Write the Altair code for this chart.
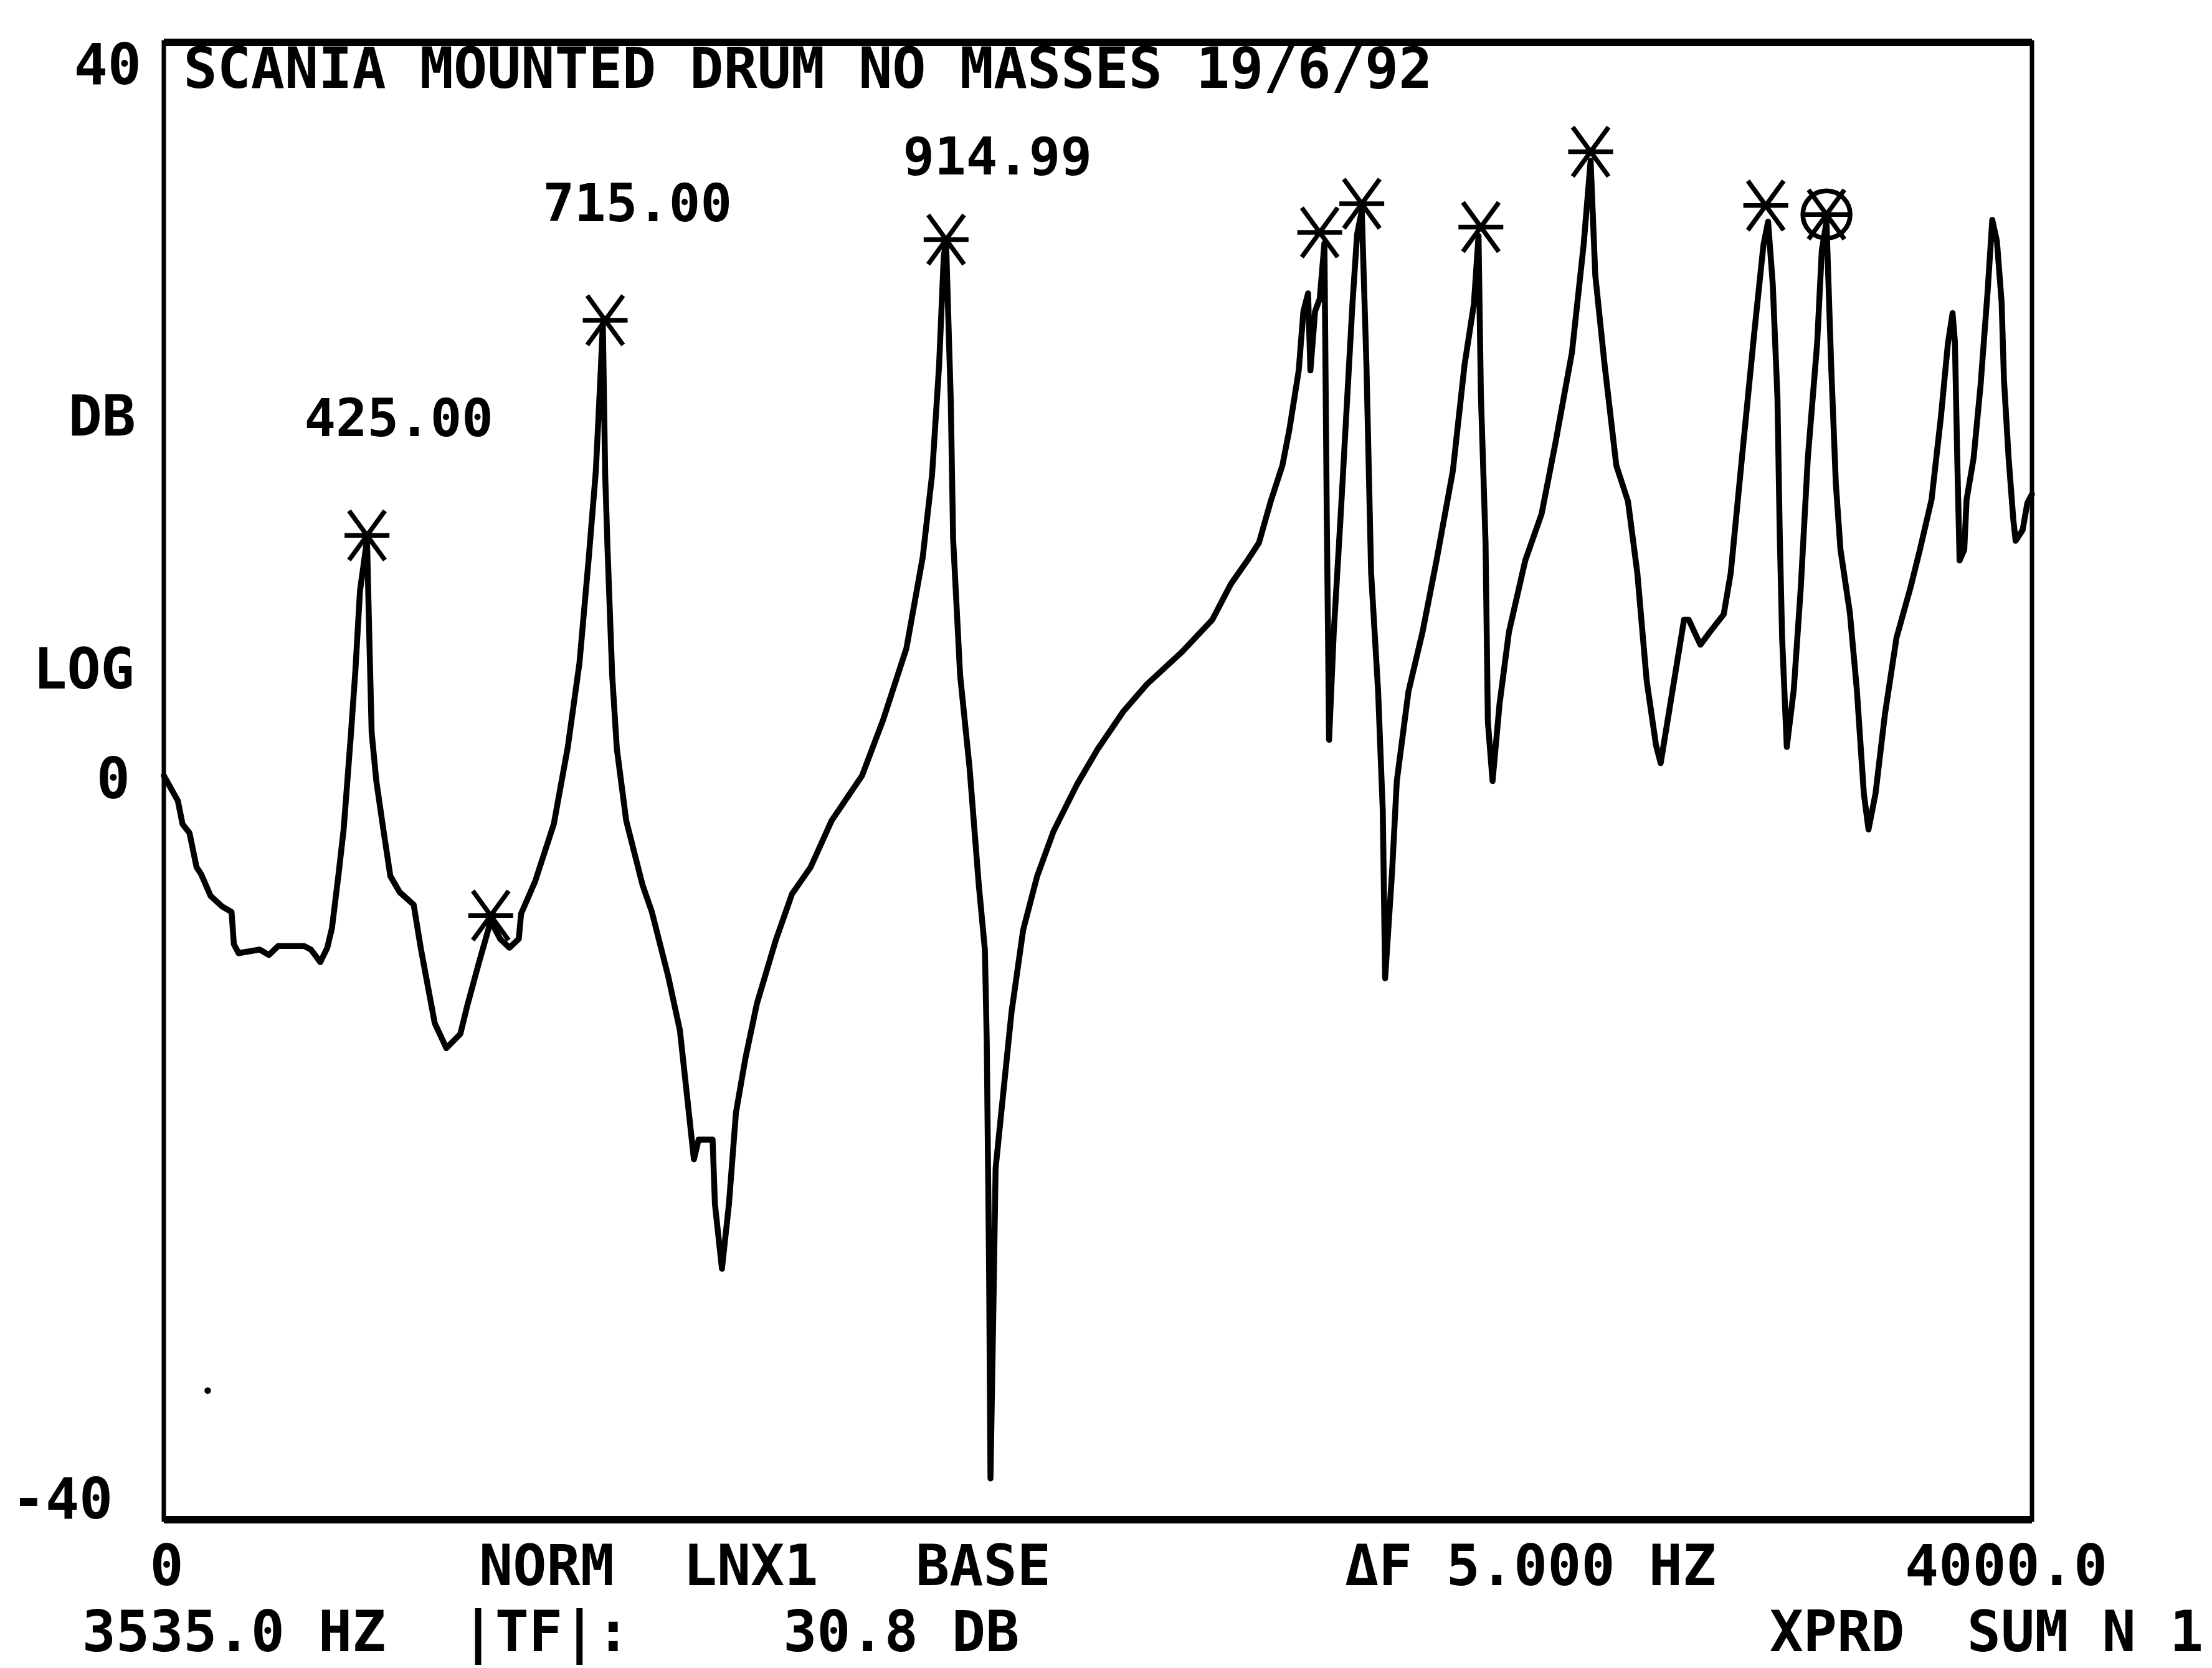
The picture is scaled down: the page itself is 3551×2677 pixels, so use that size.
import altair as alt
import pandas as pd

# ---- measured curve (frequency in Hz, level in dB) ----
freq_hz = [
    0, 30, 40, 55, 70, 80, 100, 125, 145, 150,
    160, 205, 225, 245, 300, 315, 335, 350, 360, 375,
    385, 400, 410, 420, 430, 435, 440, 445, 455, 470,
    485, 505, 535, 550, 565, 580, 605, 635, 650, 675,
    700, 720, 740, 760, 765, 795, 835, 865, 890, 910,
    925, 935, 940, 945, 950, 960, 970, 990, 1025, 1045,
    1080, 1105, 1120, 1135, 1145, 1175, 1180, 1195, 1210, 1225,
    1245, 1270, 1310, 1345, 1385, 1430, 1495, 1540, 1590, 1625,
    1645, 1660, 1670, 1675, 1685, 1690, 1705, 1725, 1745, 1758,
    1762, 1767, 1770, 1776, 1781, 1795, 1815, 1840, 1870, 1905,
    1955, 2000, 2055, 2105, 2180, 2245, 2285, 2320, 2345, 2370,
    2395, 2410, 2430, 2440, 2450, 2455, 2465, 2475, 2485, 2490,
    2495, 2505, 2520, 2545, 2555, 2565, 2575, 2585, 2600, 2610,
    2615, 2630, 2640, 2665, 2695, 2725, 2760, 2785, 2805, 2815,
    2820, 2830, 2835, 2845, 2860, 2880, 2915, 2950, 2980, 3015,
    3040, 3055, 3065, 3085, 3110, 3135, 3155, 3175, 3195, 3205,
    3230, 3255, 3265, 3290, 3310, 3340, 3355, 3380, 3405, 3425,
    3435, 3445, 3455, 3460, 3465, 3475, 3490, 3505, 3520, 3540,
    3550, 3560, 3570, 3580, 3590, 3610, 3625, 3640, 3650, 3665,
    3685, 3710, 3740, 3760, 3785, 3805, 3820, 3830, 3835, 3840,
    3845, 3855, 3860, 3875, 3890, 3905, 3915, 3925, 3935, 3940,
    3950, 3960, 3965, 3980, 3990, 4000,
]
level_db = [
    0.3, -1.1, -2.4, -2.9, -4.8, -5.2, -6.4, -7.0, -7.3, -9.1,
    -9.6, -9.4, -9.7, -9.2, -9.2, -9.4, -10.1, -9.3, -8.2, -5.0,
    -2.7, 2.4, 6.1, 10.6, 12.5, 13.5, 8.0, 2.7, 0.0, -2.7,
    -5.3, -6.2, -6.9, -9.3, -11.4, -13.5, -14.9, -14.1, -12.5, -10.1,
    -7.8, -8.8, -9.3, -8.8, -7.4, -5.6, -2.4, 1.9, 6.6, 12.5,
    17.3, 22.6, 25.5, 17.1, 13.0, 5.9, 1.8, -2.2, -5.8, -7.3,
    -10.9, -13.9, -17.5, -21.1, -20.0, -20.0, -23.6, -27.2, -23.6, -18.5,
    -15.5, -12.4, -8.9, -6.3, -4.8, -2.2, 0.3, 3.4, 7.4, 12.5,
    17.1, 23.2, 29.3, 30.0, 21.2, 13.5, 5.9, 0.8, -5.8, -9.4,
    -14.5, -27.2, -38.9, -29.7, -21.6, -18.0, -12.9, -8.3, -5.3, -2.8,
    -0.2, 1.8, 3.9, 5.4, 7.2, 9.0, 11.0, 12.3, 13.3, 15.6,
    17.6, 19.6, 22.9, 26.2, 27.2, 22.9, 26.2, 26.9, 30.0, 14.9,
    2.3, 8.3, 14.9, 26.6, 30.5, 31.8, 23.2, 11.6, 5.0, -1.7,
    -11.0, -5.0, 0.0, 5.0, 8.3, 12.3, 17.3, 23.2, 26.6, 30.4,
    21.6, 13.3, 3.3, 0.0, 4.3, 8.3, 12.3, 14.9, 18.9, 23.9,
    29.9, 34.6, 28.2, 23.2, 17.6, 15.6, 11.6, 5.6, 2.0, 1.0,
    5.0, 9.0, 9.0, 7.6, 8.3, 9.3, 11.6, 18.3, 24.9, 29.9,
    31.2, 27.7, 21.4, 13.7, 8.0, 1.9, 5.1, 10.8, 18.0, 24.4,
    29.6, 31.2, 23.2, 16.6, 12.9, 9.4, 5.1, -0.7, -2.7, -0.7,
    3.7, 8.0, 10.8, 12.9, 15.7, 20.3, 24.4, 26.1, 24.5, 18.0,
    12.3, 12.9, 15.7, 18.0, 22.1, 27.3, 31.3, 30.1, 26.7, 22.4,
    18.0, 14.6, 13.4, 14.0, 15.5, 16.0,
]
assert len(freq_hz) == len(level_db)

# peak markers (asterisks) and the cursor (circled)
peak_f = [435, 700, 945, 1675, 2475, 2565, 2820, 3055, 3430, 3560]
peak_db = [13.7, -7.5, 25.7, 30.2, 30.6, 32.2, 30.9, 35.1, 32.1, 31.6]
cursor_f = [3560]
cursor_db = [31.6]

# peak frequency labels
plabel_text = ["425.00", "715.00", "914.99"]
plabel_f = [503, 1014, 1785]
plabel_db = [20.1, 32.1, 34.7]

# y-side labels
ylab_text = ["40", "DB", "LOG", "0", "-40"]
ylab_f = [-48, -60, -63, -72, -109]
ylab_db = [39.8, 20.2, 6.1, 0.0, -40.2]

# bottom legend texts
bot_text = ["0", "NORM", "LNX1", "BASE", "\u0394F 5.000 HZ", "4000.0",
            "3535.0 HZ", "|TF|:", "30.8 DB", "XPRD", "SUM N 1"]
bot_f = [-30, 675, 1112, 1610, 2529, 3728,
         -175, 637, 1326, 3438, 3861]
bot_db = [-43.9, -43.9, -43.9, -43.9, -43.9, -43.9,
          -47.6, -47.6, -47.6, -47.6, -47.6]

title_text = ["SCANIA MOUNTED DRUM NO MASSES 19/6/92"]
title_f = [42]
title_db = [39.6]

speck_f = [94]
speck_db = [-34.0]

W, H = 2999, 2371
FONT = "DejaVu Sans Mono"

xs = alt.Scale(domain=[0, 4000], nice=False, zero=False)
ys = alt.Scale(domain=[-41.2, 41.2], nice=False, zero=False)


def X():
    return alt.X("f:Q", scale=xs, axis=None)


def Y():
    return alt.Y("db:Q", scale=ys, axis=None)


curve = pd.DataFrame({"f": freq_hz, "db": level_db})
peaks = pd.DataFrame({"f": peak_f, "db": peak_db})
cursor = pd.DataFrame({"f": cursor_f, "db": cursor_db})
plabels = pd.DataFrame({"f": plabel_f, "db": plabel_db, "t": plabel_text})
ylabs = pd.DataFrame({"f": ylab_f, "db": ylab_db, "t": ylab_text})
bots = pd.DataFrame({"f": bot_f, "db": bot_db, "t": bot_text})
titles = pd.DataFrame({"f": title_f, "db": title_db, "t": title_text})
speck = pd.DataFrame({"f": speck_f, "db": speck_db})

line = alt.Chart(curve).mark_line(
    color="black", strokeWidth=9.5, strokeJoin="round", strokeCap="round"
).encode(x=X(), y=Y())

asterisk = "M-1,0L1,0M-0.8,-1.1L0.8,1.1M-0.8,1.1L0.8,-1.1"
stars = alt.Chart(peaks).mark_point(
    shape=asterisk, size=5184, filled=False, stroke="black", strokeWidth=7.5, opacity=1
).encode(x=X(), y=Y())

circ = alt.Chart(cursor).mark_point(
    shape="circle", size=5776, filled=False, stroke="black", strokeWidth=7.5, opacity=1
).encode(x=X(), y=Y())

dot = alt.Chart(speck).mark_point(
    shape="circle", size=110, filled=True, color="black", opacity=1
).encode(x=X(), y=Y())

t_title = alt.Chart(titles).mark_text(
    font=FONT, fontSize=90, fontWeight="bold", align="left", baseline="middle", color="black"
).encode(x=X(), y=Y(), text="t:N")

t_peaks = alt.Chart(plabels).mark_text(
    font=FONT, fontSize=84, fontWeight="bold", align="center", baseline="middle", color="black"
).encode(x=X(), y=Y(), text="t:N")

t_y = alt.Chart(ylabs).mark_text(
    font=FONT, fontSize=90, fontWeight="bold", align="right", baseline="middle", color="black"
).encode(x=X(), y=Y(), text="t:N")

t_bot = alt.Chart(bots).mark_text(
    font=FONT, fontSize=90, fontWeight="bold", align="left", baseline="middle", color="black"
).encode(x=X(), y=Y(), text="t:N")

top_rule = alt.Chart(curve).mark_rule(color="black", strokeWidth=12).encode(
    x=alt.value(0), x2=alt.value(W), y=alt.value(0)
)
bottom_rule = alt.Chart(curve).mark_rule(color="black", strokeWidth=12).encode(
    x=alt.value(0), x2=alt.value(W), y=alt.value(H)
)

chart = alt.layer(
    top_rule, bottom_rule, line, stars, circ, dot, t_title, t_peaks, t_y, t_bot
).properties(
    width=W,
    height=H,
    autosize=alt.AutoSizeParams(type="none"),
    padding={"left": 255, "top": 60, "right": 281, "bottom": 234},
    background="white",
).configure_view(
    stroke="black", strokeWidth=7
)

chart.save("out.html", embed_options={"renderer": "svg", "actions": False})
